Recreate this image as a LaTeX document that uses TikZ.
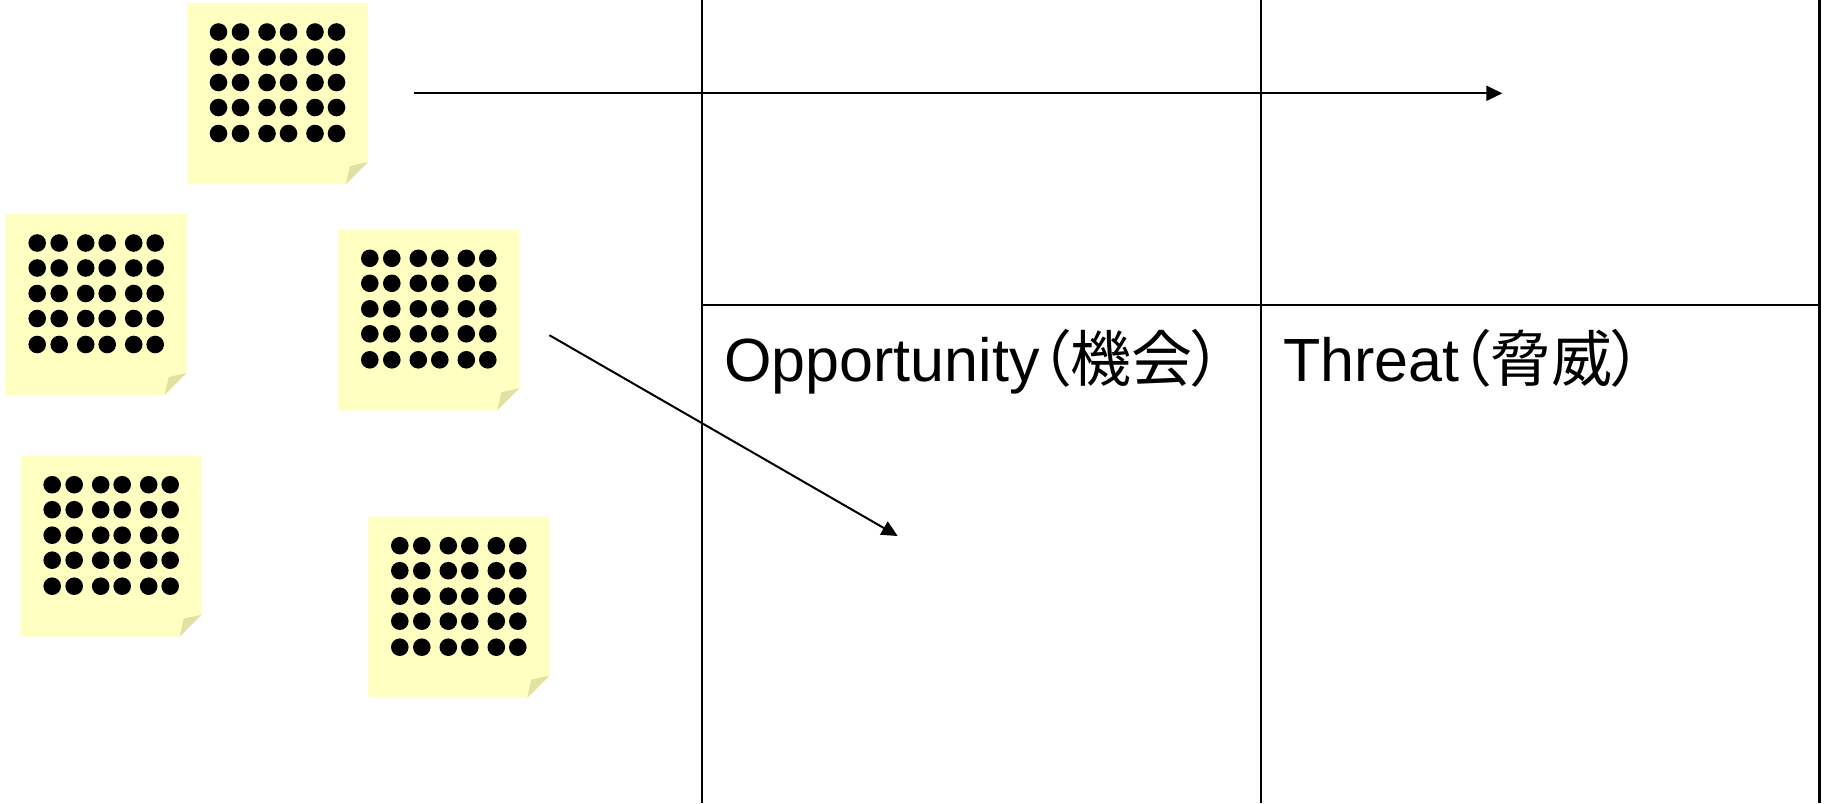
\documentclass[tikz,border=0pt]{standalone}
\usepackage{fontspec}
\setmainfont{Liberation Sans}
\newfontfamily\cjk[RawFeature={+palt}]{Noto Sans CJK JP}
\usetikzlibrary{arrows.meta}
\definecolor{notefill}{RGB}{255,255,193}
\definecolor{notefold}{RGB}{225,225,164}
\tikzset{
  grid/.style={line width=2pt, black},
  arr/.style={line width=2pt, -{Triangle[length=16pt,width=15pt]}},
  label/.style={anchor=base west, inner sep=0pt, font=\fontsize{61}{70}\selectfont},
  note/.pic={
    \fill[notefill] (0,0) -- (181,0) -- (181,159) -- (159,181) -- (0,181) -- cycle;
    \fill[notefold] (181,159) -- (159,181) -- (163,163) -- cycle;
    \foreach \dx in {31.5,53.5,80,101.5,128,149.5}
      \foreach \dy in {29,54,79.5,104.5,130.5}
        \fill[black] (\dx,\dy) circle (8.8pt);
  }
}
\begin{document}
\begin{tikzpicture}[x=1pt,y=-1pt]
\fill[white] (0,0) rectangle (1825,803);
\useasboundingbox (0,0) rectangle (1825,803);
% grid
\coordinate (v1t) at (701.7,0);
\coordinate (v1b) at (701.7,803);
\coordinate (v2t) at (1261,0);
\coordinate (v2b) at (1261,803);
\coordinate (v3t) at (1819,0);
\coordinate (v3b) at (1819,803);
\coordinate (hl) at (701.7,305);
\coordinate (hr) at (1819,305);
\draw[grid] (v1t) -- (v1b);
\draw[grid] (v2t) -- (v2b);
\draw[grid, line width=3pt] (v3t) -- (v3b);
\draw[grid] (hl) -- (hr);
% notes
\pic (n1) at (187,3) {note};
\pic (n2) at (5.7,214) {note};
\pic (n3) at (338.3,229.3) {note};
\pic (n4) at (20.7,455.7) {note};
\pic (n5) at (368.3,516.7) {note};
% arrows
\coordinate (a1s) at (414,93.3);
\coordinate (a1e) at (1502.3,93.3);
\coordinate (a2s) at (549.4,335.2);
\coordinate (a2e) at (897.7,536);
\draw[arr] (a1s) -- (a1e);
\draw[arr] (a2s) -- (a2e);
% labels
\node[label] (opp) at (724,381) {Opportunity{\cjk（機会）}};
\node[label] (thr) at (1283,381) {Threat{\cjk（脅威）}};
\end{tikzpicture}
\end{document}
